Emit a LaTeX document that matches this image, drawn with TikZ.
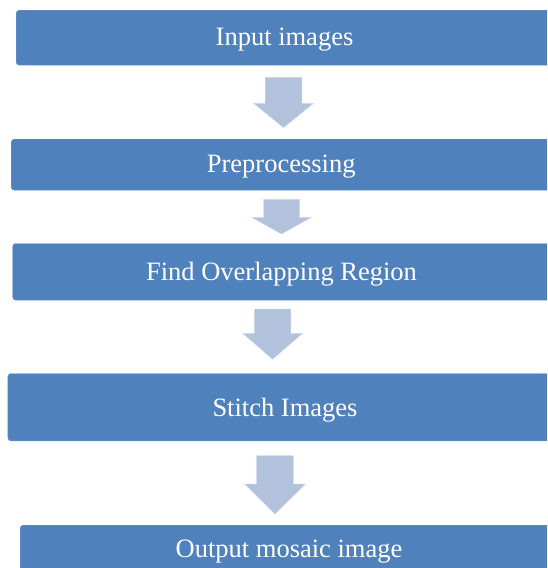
\documentclass[tikz,border=0pt]{standalone}
\usepackage{fontspec}
\setmainfont{Liberation Serif}
\tikzset{
  x=1pt, y=-1pt,
  stepbox/.style={fill=boxblue, draw=boxblue!80!white, line width=0.4pt,
    rounded corners=3pt, inner sep=0pt, anchor=north west},
  steptext/.style={text=white, font=\fontsize{26.5}{32}\selectfont,
    inner sep=0pt, anchor=base},
  flowarrow/.style={fill=arrowblue, draw=arrowblue!60!white, line width=0.4pt}
}
\definecolor{boxblue}{RGB}{79,129,189}
\definecolor{arrowblue}{RGB}{178,194,221}
% block arrow: {centre x}{top}{neck}{tip}{shaft width}{head width}
\newcommand{\blockarrowdown}[6]{%
  \filldraw[flowarrow]
    (#1-#5/2,#2) -- (#1+#5/2,#2) -- (#1+#5/2,#3) -- (#1+#6/2,#3)
    -- (#1,#4) -- (#1-#6/2,#3) -- (#1-#5/2,#3) -- cycle;}
\begin{document}
\begin{tikzpicture}
  \useasboundingbox (0,0) rectangle (547,568);
  \clip (0,0) rectangle (547,568);

  % process steps (boxes run off the right edge)
  \node[stepbox, minimum width=560pt, minimum height=55pt] (b1) at (16,10) {};
  \node[stepbox, minimum width=560pt, minimum height=51pt] (b2) at (11,139) {};
  \node[stepbox, minimum width=560pt, minimum height=56.7pt] (b3) at (12.5,243.3) {};
  \node[stepbox, minimum width=560pt, minimum height=67.4pt] (b4) at (7.7,373.3) {};
  \node[stepbox, minimum width=560pt, minimum height=80pt] (b5) at (20,525) {};

  % step labels (placed on their baselines)
  \node[steptext] (t1) at (284.5,45.3) {Input images};
  \node[steptext] (t2) at (281.2,172.5) {Preprocessing};
  \node[steptext] (t3) at (281.5,280) {Find Overlapping Region};
  \node[steptext] (t4) at (285,416) {Stitch Images};
  \node[steptext] (t5) at (289,557.5) {Output mosaic image};

  % flow arrows between steps
  \blockarrowdown{283.5}{77.3}{103.3}{127.7}{36.6}{60}
  \blockarrowdown{281.5}{199.3}{217.3}{234}{36}{60}
  \blockarrowdown{272.6}{309}{333.3}{359.3}{36.4}{60}
  \blockarrowdown{275}{455.7}{484}{514}{36.7}{61}
\end{tikzpicture}
\end{document}
